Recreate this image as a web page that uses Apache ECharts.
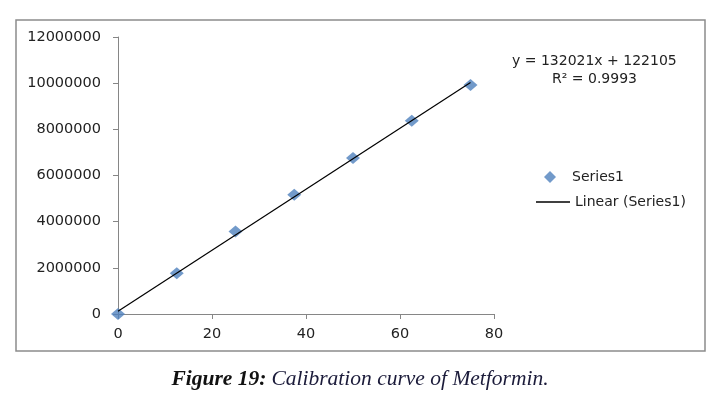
<!DOCTYPE html>
<html>
<head>
<meta charset="utf-8">
<script src="https://cdn.jsdelivr.net/npm/echarts@6/dist/echarts.min.js"></script>
<style>
  html, body { margin: 0; padding: 0; background: #fff; }
  #chart { width: 720px; height: 397px; }
</style>
</head>
<body>
<div id="chart"></div>
<script>
// 浓度 (x) 和 峰面积 (y)
var concentrations = [0, 12.5, 25, 37.5, 50, 62.5, 75];
var responses = [0, 1760000, 3570000, 5170000, 6760000, 8370000, 9920000];
// 趋势线 y = 132021x + 122105 的两端
var trendX = [0, 75];
var trendY = [122105, 10023680];
var xTicks = { min: 0, max: 80, interval: 20 };
var yTicks = { min: 0, max: 12000000, interval: 2000000 };
var equationLines = ['y = 132021x + 122105', 'R² = 0.9993'];

var myChart = echarts.init(document.getElementById('chart'));

var axisFont = { color: '#222', fontSize: 14.5, fontFamily: 'DejaVu Sans' };

var option = {
    backgroundColor: '#fff',
    animation: false,
    title: {
        text: '{b|Figure 19:} {i|Calibration curve of Metformin.}',
        left: 'center',
        top: 363,
        textStyle: {
            rich: {
                b: { fontFamily: 'Liberation Serif', fontWeight: 'bold', fontStyle: 'italic', fontSize: 21.5, color: '#111' },
                i: { fontFamily: 'Liberation Serif', fontWeight: 'normal', fontStyle: 'italic', fontSize: 21.5, color: '#1b1b3a' }
            }
        }
    },
    legend: [{
        data: [{ name: 'Series1', icon: 'path://M0,-1L1,0L0,1L-1,0Z' }],
        left: 539,
        top: 165,
        itemWidth: 34,
        itemHeight: 12,
        textStyle: { color: '#222', fontSize: 14, fontFamily: 'DejaVu Sans' }
    }, {
        data: [{ name: 'Linear (Series1)', icon: 'rect' }],
        left: 531,
        top: 190,
        itemWidth: 34,
        itemHeight: 1.5,
        itemStyle: { color: '#000' },
        textStyle: { color: '#222', fontSize: 14, fontFamily: 'DejaVu Sans' }
    }],
    grid: {
        left: 118,
        right: 226,
        top: 37,
        bottom: 83
    },
    xAxis: {
        type: 'value',
        min: xTicks.min,
        max: xTicks.max,
        interval: xTicks.interval,
        splitLine: { show: false },
        axisLine: { lineStyle: { color: '#868686', width: 1 } },
        axisTick: { show: true, length: 5, lineStyle: { color: '#868686' } },
        axisLabel: Object.assign({ margin: 13 }, axisFont)
    },
    yAxis: {
        type: 'value',
        min: yTicks.min,
        max: yTicks.max,
        interval: yTicks.interval,
        splitLine: { show: false },
        axisLine: { show: true, lineStyle: { color: '#868686', width: 1 } },
        axisTick: { show: true, length: 5, lineStyle: { color: '#868686' } },
        axisLabel: Object.assign({ margin: 17, formatter: function (v) { return String(v); } }, axisFont)
    },
    graphic: [{
        type: 'rect',
        shape: { x: 16, y: 20, width: 689, height: 331 },
        style: { fill: 'none', stroke: '#8c8c8c', lineWidth: 1.5 },
        silent: true
    }, {
        type: 'text',
        left: 512,
        top: 54,
        style: { text: equationLines[0], fontSize: 14, fontFamily: 'DejaVu Sans', fill: '#222' }
    }, {
        type: 'text',
        left: 552,
        top: 72,
        style: { text: equationLines[1], fontSize: 14, fontFamily: 'DejaVu Sans', fill: '#222' }
    }],
    series: [{
        name: 'Linear (Series1)',
        type: 'line',
        data: trendX.map(function (x, i) { return [x, trendY[i]]; }),
        showSymbol: false,
        lineStyle: { color: '#000', width: 1.2 },
        itemStyle: { color: '#000' },
        z: 3
    }, {
        name: 'Series1',
        type: 'scatter',
        data: concentrations.map(function (x, i) { return [x, responses[i]]; }),
        symbol: 'diamond',
        symbolSize: [14, 12],
        itemStyle: { color: '#4F81BD' },
        z: 2
    }]
};

myChart.setOption(option);
</script>
</body>
</html>
